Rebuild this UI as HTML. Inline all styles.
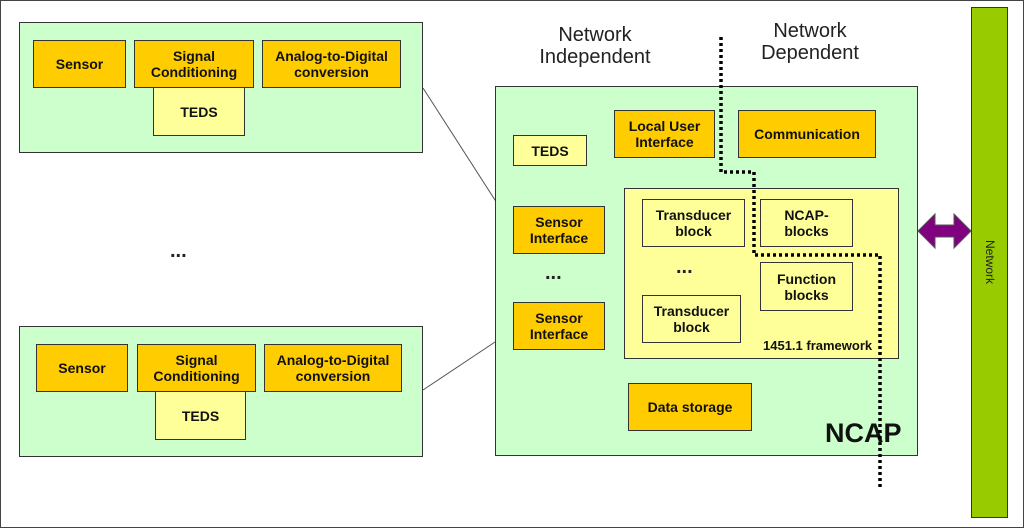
<!DOCTYPE html>
<html><head><meta charset="utf-8"><style>
body{margin:0;width:1024px;height:528px;background:#fff;position:relative;overflow:hidden;font-family:"Liberation Sans",sans-serif}
.b{position:absolute;box-sizing:border-box;border:1.5px solid #333;display:flex;align-items:center;justify-content:center;text-align:center;font-weight:bold;font-size:14px;line-height:16px;color:#111}
.g{background:#ccffcc}
.o{background:#ffcc00}
.y{background:#ffff99}
.t{position:absolute;font-size:20px;color:#222;text-align:center;line-height:22px}
</style></head><body>
<div style="position:absolute;left:0;top:0;width:1024px;height:528px;box-sizing:border-box;border:1.5px solid #444"></div>
<svg style="position:absolute;left:0;top:0" width="1024" height="528">
<line x1="423" y1="88" x2="513" y2="228" stroke="#555" stroke-width="1"/>
<line x1="423" y1="390" x2="513" y2="330" stroke="#555" stroke-width="1"/>
</svg>
<div class="b g" style="left:19px;top:22px;width:404px;height:131px"></div>
<div class="b o" style="left:33px;top:40px;width:93px;height:48px">Sensor</div>
<div class="b o" style="left:134px;top:40px;width:120px;height:48px">Signal<br>Conditioning</div>
<div class="b o" style="left:262px;top:40px;width:139px;height:48px">Analog-to-Digital<br>conversion</div>
<div class="b y" style="left:153px;top:87px;width:92px;height:49px">TEDS</div>
<div class="t" style="left:170px;top:240px;font-weight:bold">...</div>
<div class="b g" style="left:19px;top:326px;width:404px;height:131px"></div>
<div class="b o" style="left:36px;top:344px;width:92px;height:48px">Sensor</div>
<div class="b o" style="left:137px;top:344px;width:119px;height:48px">Signal<br>Conditioning</div>
<div class="b o" style="left:264px;top:344px;width:138px;height:48px">Analog-to-Digital<br>conversion</div>
<div class="b y" style="left:155px;top:391px;width:91px;height:49px">TEDS</div>

<div class="t" style="left:520px;top:24px;width:150px">Network<br>Independent</div>
<div class="t" style="left:740px;top:20px;width:140px">Network<br>Dependent</div>

<div class="b g" style="left:495px;top:86px;width:423px;height:370px"></div>
<div class="b y" style="left:513px;top:135px;width:74px;height:31px">TEDS</div>
<div class="b o" style="left:614px;top:110px;width:101px;height:48px">Local User<br>Interface</div>
<div class="b o" style="left:738px;top:110px;width:138px;height:48px">Communication</div>
<div class="b o" style="left:513px;top:206px;width:92px;height:48px">Sensor<br>Interface</div>
<div class="t" style="left:545px;top:262px;font-weight:bold">...</div>
<div class="b o" style="left:513px;top:302px;width:92px;height:48px">Sensor<br>Interface</div>
<div class="b y" style="left:624px;top:188px;width:275px;height:171px"></div>
<div class="b y" style="left:642px;top:199px;width:103px;height:48px">Transducer<br>block</div>
<div class="b y" style="left:760px;top:199px;width:93px;height:48px">NCAP-<br>blocks</div>
<div class="t" style="left:676px;top:256px;font-weight:bold">...</div>
<div class="b y" style="left:760px;top:262px;width:93px;height:49px">Function<br>blocks</div>
<div class="b y" style="left:642px;top:295px;width:99px;height:48px">Transducer<br>block</div>
<div style="position:absolute;left:763px;top:338px;font-size:13px;font-weight:bold;color:#111">1451.1 framework</div>
<div class="b o" style="left:628px;top:383px;width:124px;height:48px">Data storage</div>
<div style="position:absolute;left:825px;top:418px;font-size:27px;font-weight:bold;color:#111">NCAP</div>

<svg style="position:absolute;left:0;top:0" width="1024" height="528">
<polyline points="721,37 721,172 754,172 754,255 880,255 880,488" fill="none" stroke="#000" stroke-width="3.5" stroke-dasharray="3,3"/>
<polygon points="918,231 935,214 935,225 954,225 954,214 971,231 954,248 954,237 935,237 935,248" fill="#800080" stroke="#555" stroke-width="1"/>
</svg>
<div class="b" style="left:971px;top:7px;width:37px;height:511px;background:#99cc00"></div>
<div style="position:absolute;left:955px;top:255px;width:70px;text-align:center;transform:rotate(90deg);font-size:12px;color:#222">Network</div>
</body></html>
